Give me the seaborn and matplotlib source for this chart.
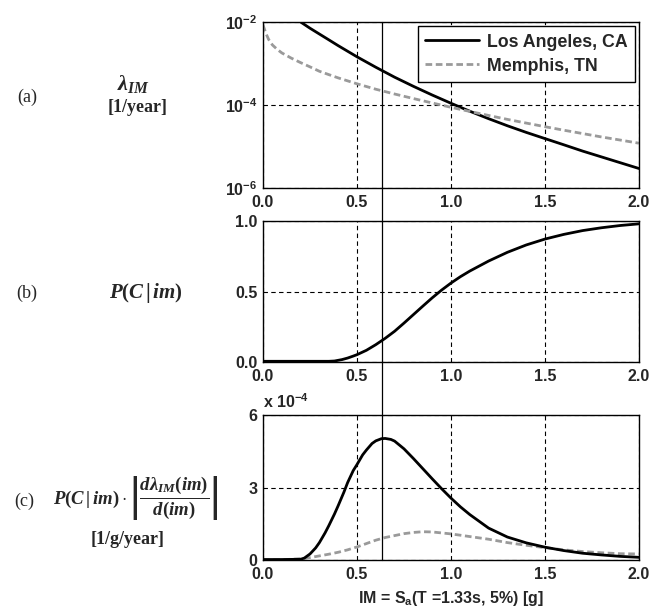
import numpy as np
import pandas as pd
import matplotlib
matplotlib.use("Agg")
import matplotlib.pyplot as plt
import matplotlib.transforms as mtransforms
from matplotlib.lines import Line2D
from matplotlib.ticker import NullLocator
import seaborn as sns

sns.set_style("white")
plt.rcParams['font.family'] = ['Liberation Sans', 'DejaVu Sans']
plt.rcParams['font.weight'] = 'bold'
plt.rcParams['mathtext.fontset'] = 'custom'
plt.rcParams['mathtext.rm'] = 'Liberation Serif:bold'
plt.rcParams['mathtext.it'] = 'Liberation Serif:italic:bold'
plt.rcParams['mathtext.bf'] = 'Liberation Serif:bold'
plt.rcParams['mathtext.sf'] = 'Liberation Sans:bold'

# ---- data ----
# (a) hazard curves lambda_IM [1/year]
la_haz_x = [0.2, 0.25, 0.3, 0.35, 0.4, 0.5, 0.6, 0.7, 0.8, 0.9, 1.0, 1.1, 1.2,
            1.3, 1.4, 1.5, 1.6, 1.7, 1.8, 1.9, 2.0]
la_haz = [1.0e-2, 7.08e-3, 5.13e-3, 3.72e-3, 2.69e-3, 1.45e-3, 8.13e-4, 4.68e-4,
          2.82e-4, 1.74e-4, 1.10e-4, 7.08e-5, 4.68e-5, 3.16e-5, 2.19e-5, 1.55e-5,
          1.10e-5, 7.76e-6, 5.62e-6, 4.07e-6, 2.95e-6]
mem_haz_x = [0.0, 0.01, 0.02, 0.03, 0.05, 0.075, 0.1, 0.15, 0.2, 0.25, 0.3, 0.35,
             0.4, 0.5, 0.6, 0.7, 0.8, 0.9, 1.0, 1.1, 1.2, 1.3, 1.4, 1.5, 1.6, 1.7,
             1.8, 1.9, 2.0]
mem_haz = [8.5e-3, 6.3e-3, 4.8e-3, 3.8e-3, 2.8e-3, 2.2e-3, 1.8e-3, 1.35e-3, 1.05e-3,
           8.3e-4, 6.5e-4, 5.4e-4, 4.5e-4, 3.24e-4, 2.4e-4, 1.84e-4, 1.43e-4,
           1.12e-4, 8.8e-5, 7.0e-5, 5.6e-5, 4.5e-5, 3.67e-5, 3.0e-5, 2.47e-5,
           2.05e-5, 1.7e-5, 1.43e-5, 1.2e-5]

# (b) collapse fragility P(C|im)
frag_x = [0.0, 0.1, 0.2, 0.3, 0.35, 0.38, 0.42, 0.45, 0.48, 0.5, 0.55, 0.6, 0.65,
          0.7, 0.75, 0.8, 0.85, 0.9, 0.95, 1.0, 1.05, 1.1, 1.2, 1.3, 1.4, 1.5, 1.6,
          1.7, 1.8, 1.9, 2.0]
frag = [0.005, 0.005, 0.005, 0.005, 0.005, 0.007, 0.017, 0.028, 0.042, 0.052, 0.083,
        0.123, 0.168, 0.218, 0.276, 0.336, 0.396, 0.455, 0.51, 0.56, 0.605, 0.645,
        0.716, 0.778, 0.83, 0.872, 0.905, 0.932, 0.952, 0.968, 0.98]

# (c) collapse rate density, in units of 1e-4 [1/g/year]
la_dens_x = [0.0, 0.1, 0.2, 0.22, 0.25, 0.28, 0.3, 0.33, 0.35, 0.38, 0.4, 0.43, 0.45,
             0.48, 0.5, 0.53, 0.55, 0.58, 0.6, 0.63, 0.65, 0.68, 0.7, 0.75, 0.8,
             0.85, 0.9, 0.95, 1.0, 1.05, 1.1, 1.2, 1.3, 1.4, 1.5, 1.6, 1.7, 1.8,
             1.9, 2.0]
la_dens = [0.02, 0.02, 0.03, 0.08, 0.25, 0.5, 0.72, 1.12, 1.42, 1.9, 2.25, 2.8, 3.2,
           3.7, 3.95, 4.35, 4.55, 4.82, 4.93, 5.02, 5.03, 4.99, 4.92, 4.6, 4.2, 3.78,
           3.36, 2.95, 2.56, 2.2, 1.88, 1.32, 0.95, 0.71, 0.53, 0.39, 0.28, 0.21,
           0.15, 0.11]
mem_dens_x = [0.0, 0.1, 0.2, 0.25, 0.3, 0.35, 0.4, 0.45, 0.5, 0.55, 0.6, 0.65, 0.7,
              0.75, 0.8, 0.85, 0.9, 1.0, 1.1, 1.2, 1.3, 1.4, 1.5, 1.6, 1.7, 1.8, 1.9,
              2.0]
mem_dens = [0.0, 0.01, 0.05, 0.1, 0.17, 0.24, 0.32, 0.42, 0.54, 0.68, 0.82, 0.93, 1.01,
            1.09, 1.14, 1.17, 1.16, 1.08, 0.97, 0.86, 0.72, 0.61, 0.51, 0.42, 0.35,
            0.3, 0.26, 0.25]

im_line = 0.635
x_ticks = [0.0, 0.5, 1.0, 1.5, 2.0]
x_ticklabels = ['0.0', '0.5', '1.0', '1.5', '2.0']

# ---- figure layout (pixel boxes) ----
W, H = 654, 613
fig = plt.figure(figsize=(W / 100, H / 100), dpi=100)


def rect(l, t, r, b):
    return [l / W, 1 - b / H, (r - l) / W, (b - t) / H]


ax_a = fig.add_axes(rect(263, 22, 639, 188))
ax_b = fig.add_axes(rect(263, 221, 639, 362))
ax_c = fig.add_axes(rect(263, 415, 639, 560))

la_style = dict(color='black', linewidth=2)
mem_style = dict(color='#9a9a9a', linewidth=2, linestyle=(0, (2.4, 1.3)))

sns.lineplot(x=la_haz_x, y=la_haz, ax=ax_a, label='Los Angeles, CA', **la_style)
sns.lineplot(x=mem_haz_x, y=mem_haz, ax=ax_a, label='Memphis, TN', **mem_style)
sns.lineplot(x=frag_x, y=frag, ax=ax_b, **la_style)
sns.lineplot(x=mem_dens_x, y=mem_dens, ax=ax_c, **mem_style)
sns.lineplot(x=la_dens_x, y=la_dens, ax=ax_c, **la_style)

for ax in (ax_a, ax_b, ax_c):
    ax.set_xlim(0, 2)
    ax.set_xticks(x_ticks)
    ax.set_xticklabels(x_ticklabels)
    ax.tick_params(length=0, labelsize=11.5)
    ax.tick_params(axis='x', pad=5)
    ax.tick_params(axis='y', pad=4)
    ax.grid(True, color='black', linestyle=(0, (4, 3)), linewidth=0.8)
    for sp in ax.spines.values():
        sp.set_color('black')
        sp.set_linewidth(1.0)
    ax.set_xlabel('')
    ax.set_ylabel('')

ax_a.set_yscale('log')
ax_a.set_ylim(1e-6, 1e-2)
ax_a.set_yticks([1e-6, 1e-4, 1e-2])
ax_a.set_yticklabels([r'$\mathsf{10^{-6}}$', r'$\mathsf{10^{-4}}$', r'$\mathsf{10^{-2}}$'])
ax_a.yaxis.set_minor_locator(NullLocator())
ax_a.legend(loc='upper right', frameon=True, fancybox=False, edgecolor='black',
            framealpha=1, fontsize=12.8, handlelength=3.0, handletextpad=0.45,
            borderaxespad=0.25, labelspacing=0.4, borderpad=0.4)
ax_a.get_legend().get_frame().set_linewidth(1.0)

ax_b.set_ylim(0, 1)
ax_b.set_yticks([0, 0.5, 1.0])
ax_b.set_yticklabels(['0.0', '0.5', '1.0'])

ax_c.set_ylim(0, 6)
ax_c.set_yticks([0, 3, 6])
ax_c.set_yticklabels(['0', '3', '6'])
ax_c.text(0, 1.03, r'x $\mathsf{10^{-4}}$', transform=ax_c.transAxes,
          ha='left', va='bottom', fontsize=11.5, fontweight='bold')
ax_c.set_xlabel(r'IM = $\mathsf{S_a}$(T =1.33s, 5%) [g]', fontsize=11.5,
                fontweight='bold', labelpad=5)

# vertical line at the chosen IM level, crossing all three panels
trans = mtransforms.blended_transform_factory(ax_c.transData, fig.transFigure)
fig.add_artist(Line2D([im_line, im_line], [1 - 560 / H, 1 - 22 / H],
                      transform=trans, color='black', linewidth=0.9))


# ---- row labels on the left ----
def ftext(x, y, s, **kw):
    fig.text(x / W, 1 - y / H, s, ha='center', va='center',
             family='Liberation Serif', **kw)


ftext(27, 97, '(a)', fontsize=13, fontweight='normal')
ftext(133, 84, r'$\lambda_{IM}$', fontsize=16)
ftext(138, 107, '[1/year]', fontsize=13, fontweight='bold')
ftext(27, 293, '(b)', fontsize=13, fontweight='normal')
ftext(146, 293, r'$P(C\,|\,im)$', fontsize=15)
ftext(24, 501, '(c)', fontsize=13, fontweight='normal')
ftext(136, 498, r'$P(C\,|\,im)\cdot\left|\dfrac{d\lambda_{IM}(im)}{d(im)}\right|$',
      fontsize=13.5)
ftext(128, 540, '[1/g/year]', fontsize=13, fontweight='bold')

fig.savefig('out.png', dpi=100)
